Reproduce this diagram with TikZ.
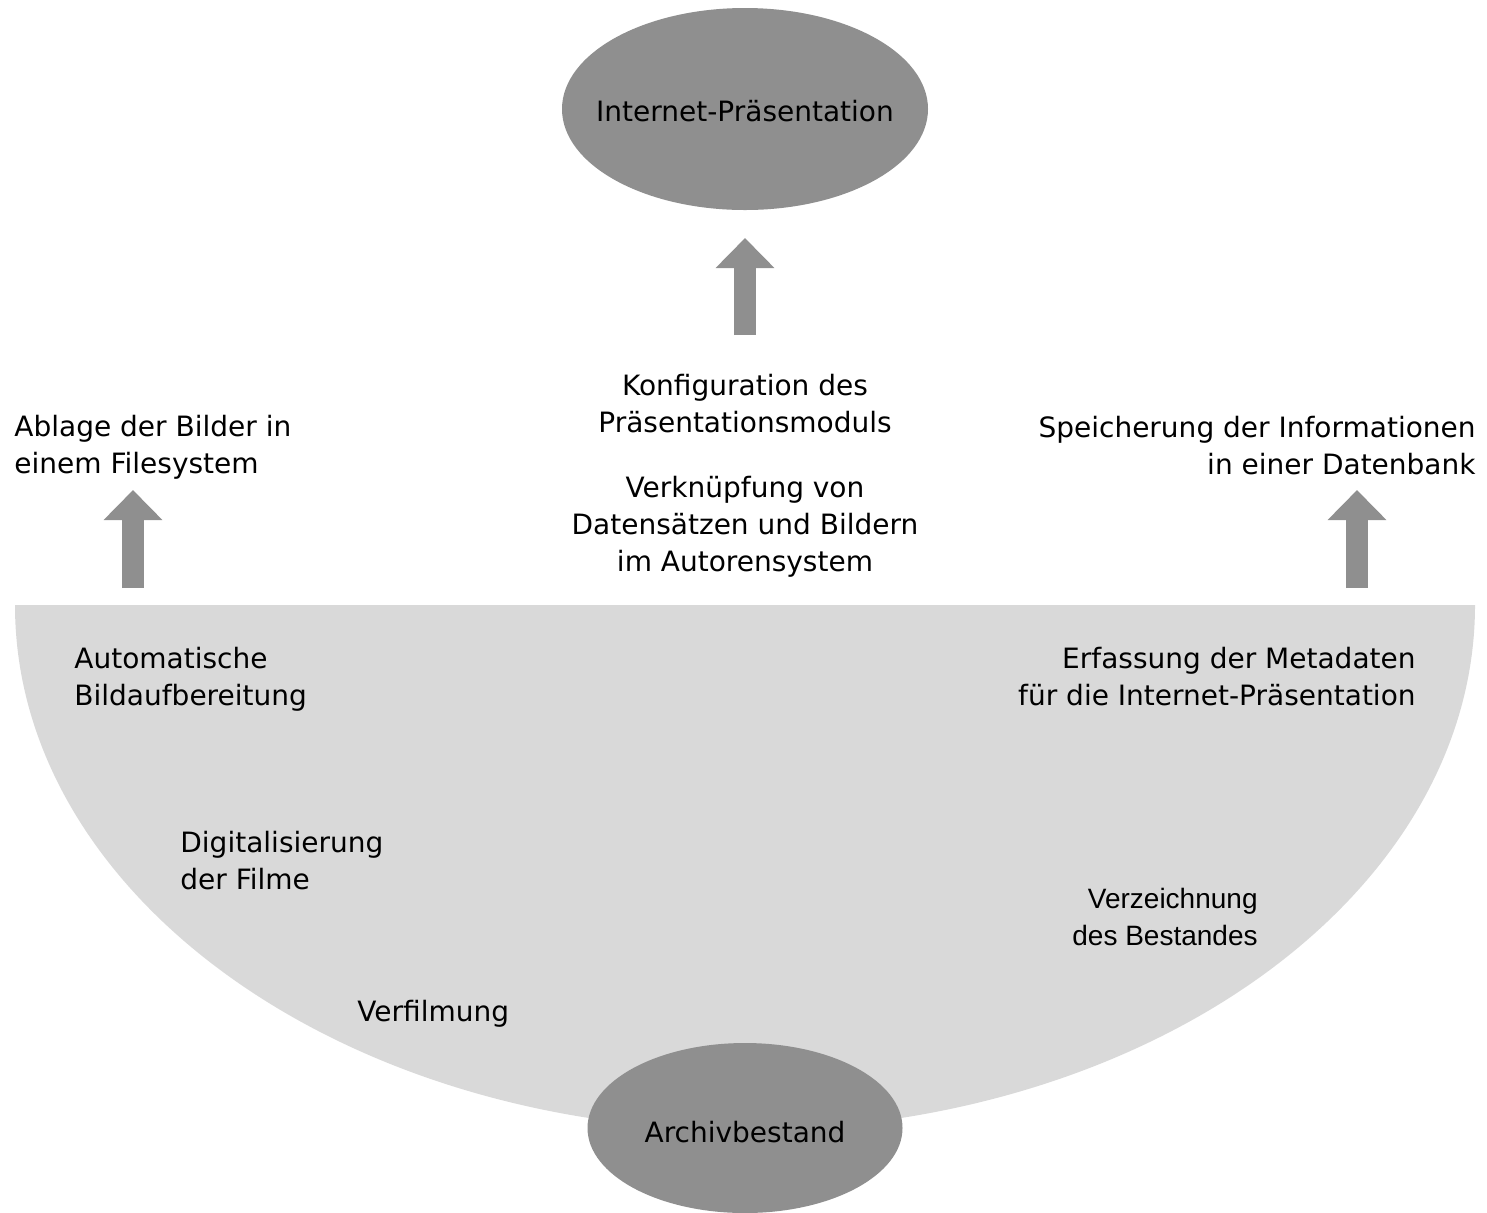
\documentclass[tikz,border=0pt]{standalone}
\usepackage{fontspec}
\setmainfont{DejaVu Sans}
\newfontfamily\arialfont{Liberation Sans}
\usetikzlibrary{arrows.meta, positioning, shapes.geometric}
\definecolor{darkgrey}{HTML}{8F8F8F}
\definecolor{lightgrey}{HTML}{D9D9D9}

\begin{document}
\begin{tikzpicture}[x=0.5pt, y=-0.5pt, font=\fontsize{14}{18.5}\selectfont]
      \useasboundingbox (0,0) rectangle (1487,1212);

      % Define the styles
      \tikzstyle{oval}=[ellipse, fill=darkgrey, inner sep=0pt]
      \tikzstyle{step text}=[inner sep=0pt, text=black]
      \tikzstyle{blockarrow}=[draw=darkgrey, line width=11pt, -{Triangle[width=28.5pt, length=15pt]}]

      % Half ellipse of the work steps
      \fill[lightgrey] (15,605) arc[start angle=180, end angle=0, x radius=730, y radius=525] -- cycle;

      % Ovals
      \node[oval, minimum width=183pt, minimum height=101pt] (web) at (745,109) {\makebox[0pt]{\raisebox{-6pt}[0pt][0pt]{Internet-Präsentation}}};
      \node[oval, minimum width=157.5pt, minimum height=85pt] (archiv) at (745,1128) {\makebox[0pt]{\raisebox{-7.3pt}[0pt][0pt]{Archivbestand}}};

      % Text nodes
      \node[step text, align=center] (config) at (745,404) {Konfiguration des\\Präsentationsmoduls};
      \node[step text, align=center] (link) [below=21pt of config] {Verknüpfung von\\Datensätzen und Bildern\\im Autorensystem};
      \node[step text, align=left, anchor=west] (filesys) at (14,447) {Ablage der Bilder in\\einem Filesystem};
      \node[step text, align=right, anchor=east] (datenbank) at (1476,446) {Speicherung der Informationen\\in einer Datenbank};
      \node[step text, align=left, anchor=west] (bildauf) at (74,679) {Automatische\\Bildaufbereitung};
      \node[step text, align=right, anchor=east] (metadaten) at (1416,677) {Erfassung der Metadaten\\für die Internet-Präsentation};
      \node[step text, align=left, anchor=west] (digital) at (180,861) {Digitalisierung\\der Filme};
      \node[step text, align=right, anchor=east, font=\arialfont\fontsize{14}{18.5}\selectfont] (verzeich) at (1258,917) {Verzeichnung\\des Bestandes};
      \node[step text, anchor=west] (verfilm) at (357,1014) {Verfilmung};

      % Arrow ends
      \coordinate (webfoot) at (745,335);
      \coordinate (webtip) at (745,238);
      \coordinate (fsfoot) at (133,588);
      \coordinate (fstip) at (133,490);
      \coordinate (dbfoot) at (1357,588);
      \coordinate (dbtip) at (1357,490);

      % Arrows
      \draw[blockarrow] (webfoot) -- (webtip);
      \draw[blockarrow] (fsfoot) -- (fstip);
      \draw[blockarrow] (dbfoot) -- (dbtip);

\end{tikzpicture}
\end{document}
